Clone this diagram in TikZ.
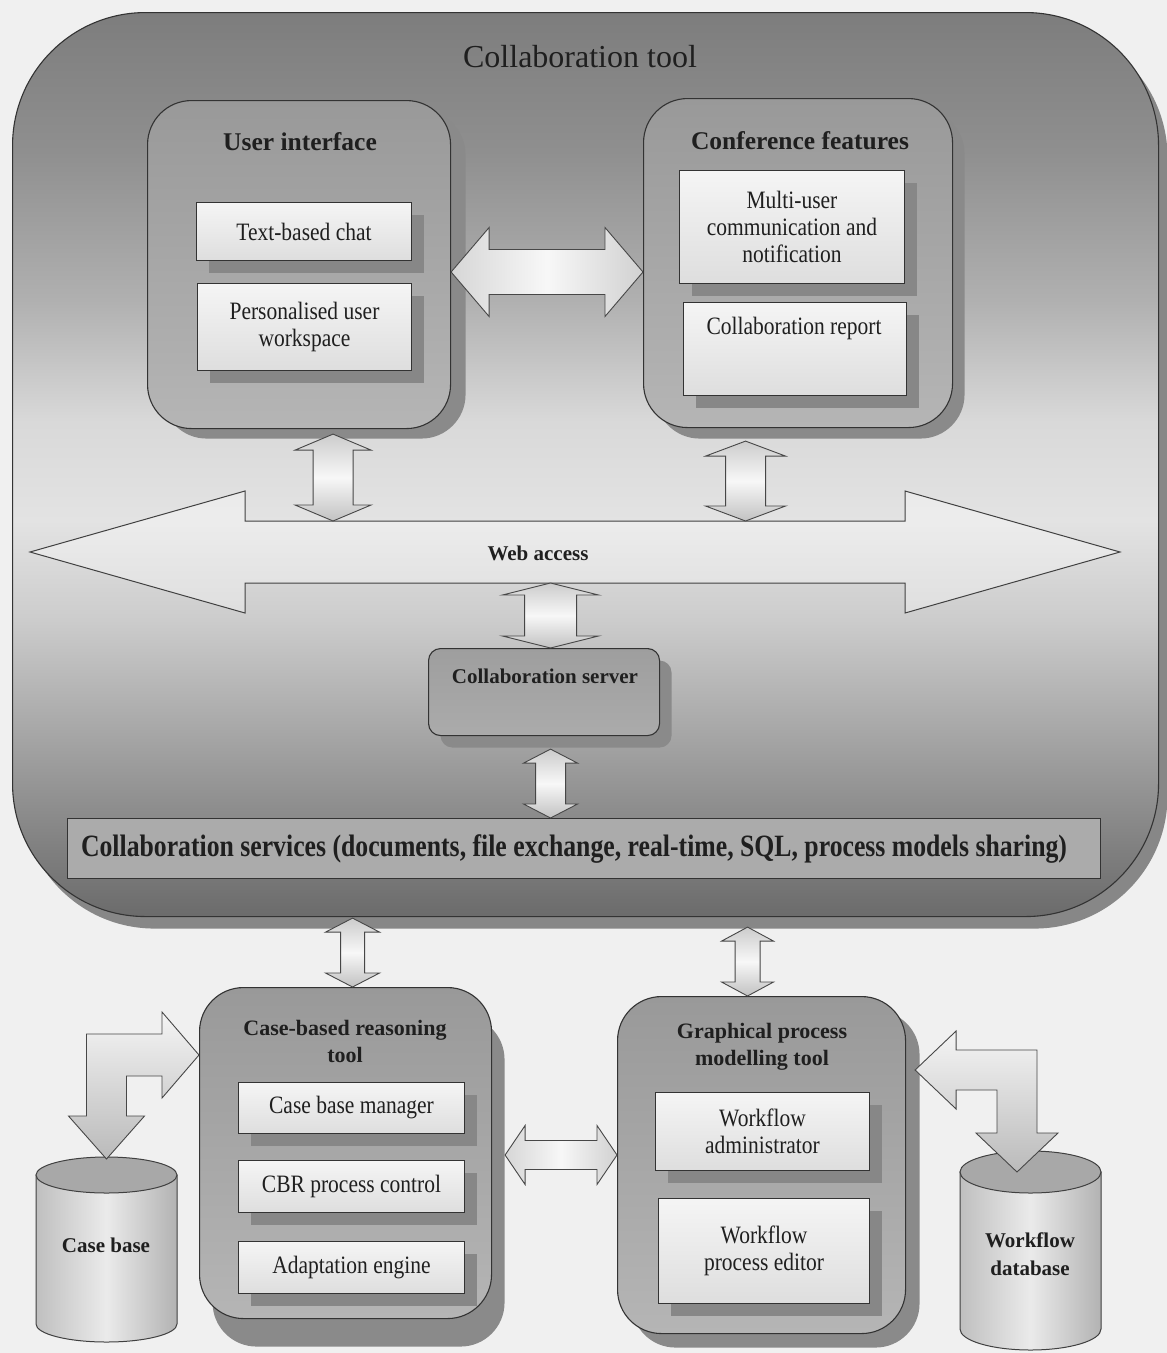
\documentclass[tikz,border=0pt]{standalone}
\usepackage{fontspec}
\setmainfont{Liberation Serif}
\newfontfamily\narrowserif[FakeStretch=0.86]{Liberation Serif}
\newfontfamily\tightserif[FakeStretch=0.83]{Liberation Serif}
\usetikzlibrary{calc,shadows}

% light band across the middle of the container, darker at top and bottom
\pgfdeclareverticalshading{outerfade}{100bp}{%
  color(0bp)=(black!58); color(25bp)=(black!58); color(28.7bp)=(black!50);
  color(34.2bp)=(black!37); color(41.4bp)=(black!20); color(46.9bp)=(black!11);
  color(52.4bp)=(black!15); color(59.1bp)=(black!31); color(67.4bp)=(black!44);
  color(75bp)=(black!51); color(100bp)=(black!51)}

\newcommand{\itemfnt}{\narrowserif\fontsize{25}{27}\selectfont}

% vertical double block arrow: style, top tip, bottom tip, shaft half width, head half width, head length
\newcommand{\vblock}[6]{%
  \path[#1] let \p1=(#2), \p2=(#3) in
    (\x1,\y1) -- (\x1+#5,\y1-#6) -- (\x1+#4,\y1-#6) -- (\x1+#4,\y2+#6) -- (\x1+#5,\y2+#6)
    -- (\x1,\y2) -- (\x1-#5,\y2+#6) -- (\x1-#4,\y2+#6) -- (\x1-#4,\y1-#6) -- (\x1-#5,\y1-#6) -- cycle;}
% horizontal double block arrow: style, left tip, right tip, shaft half width, head half width, head length
\newcommand{\hblock}[6]{%
  \path[#1] let \p1=(#2), \p2=(#3) in
    (\x1,\y1) -- (\x1+#6,\y1+#5) -- (\x1+#6,\y1+#4) -- (\x2-#6,\y1+#4) -- (\x2-#6,\y1+#5)
    -- (\x2,\y1) -- (\x2-#6,\y1-#5) -- (\x2-#6,\y1-#4) -- (\x1+#6,\y1-#4) -- (\x1+#6,\y1-#5) -- cycle;}

\tikzset{
  x=1pt, y=-1pt,
  ink/.style={text=black!88},
  rim/.style={draw=black!80, line width=1.1pt},
  toolbox/.style={rim, shade, shading=outerfade, rounded corners=133pt, anchor=north west,
    drop shadow={shadow xshift=9pt, shadow yshift=-12pt, fill=black!47, opacity=1}},
  panel/.style n args={2}{rim, rounded corners=44pt, top color=black!40, bottom color=black!29,
    anchor=north west, inner sep=0pt,
    drop shadow={shadow xshift=#1, shadow yshift=#2, fill=black!46, opacity=1}},
  itembox/.style={rim, line width=1pt, top color=black!4, bottom color=black!13, anchor=north west,
    ink, font=\itemfnt, align=center, inner sep=2pt,
    drop shadow={shadow xshift=12pt, shadow yshift=-12pt, fill=black!47, opacity=1}},
  itemtext/.style={ink, font=\itemfnt, align=center},
  head/.style={ink, font=\bfseries\fontsize{22}{27}\selectfont, align=center},
  bighead/.style={ink, font=\bfseries\fontsize{25.5}{30}\selectfont},
  srvbox/.style={rim, rounded corners=12pt, top color=black!38, bottom color=black!33, anchor=north west,
    drop shadow={shadow xshift=12pt, shadow yshift=-12pt, fill=black!46, opacity=1}},
  svcbox/.style={rim, fill=black!33, anchor=north west, inner sep=0pt},
  svctext/.style={ink, font=\tightserif\bfseries\fontsize{31}{36}\selectfont},
  vfill/.style={draw=black!72, line width=0.9pt, top color=black!20, bottom color=black!24, middle color=black!3},
  hfill/.style={draw=black!72, line width=0.9pt, left color=black!16, right color=black!18, middle color=black!3},
  webfill/.style={draw=black!75, line width=1pt, fill=white, fill opacity=0.35},
  bentfill/.style={draw=black!72, line width=0.9pt, top color=black!4, bottom color=black!27},
  cylbody/.style={draw=black!75, line width=1pt, left color=black!25, right color=black!30, middle color=black!8},
  cyltop/.style={draw=black!75, line width=1pt, fill=black!34},
}

\begin{document}
\begin{tikzpicture}
\fill[black!6] (0,0) rectangle (1167,1353);
\useasboundingbox (0,0) rectangle (1167,1353);

% ---------- collaboration tool container ----------
\node[toolbox, minimum width=1146pt, minimum height=904pt] (tool) at (12,12) {};
\node[ink, font=\fontsize{32}{36}\selectfont] (tooltitle) at (580,57) {Collaboration tool};

% user interface
\node[panel={15pt}{-10pt}, minimum width=303pt, minimum height=328pt] (ui) at (147,100) {};
\node[bighead] (uititle) at (300,142) {User interface};
\node[itembox, minimum width=215pt, minimum height=58pt] (chat) at (196,202) {Text-based chat};
\node[itembox, minimum width=214pt, minimum height=87pt] (wsp) at (197,283) {Personalised user\\workspace};

% conference features
\node[panel={12pt}{-11pt}, minimum width=309pt, minimum height=329pt] (cf) at (643,98) {};
\node[bighead] (cftitle) at (800,141) {Conference features};
\node[itembox, minimum width=225pt, minimum height=113pt] (multi) at (679,170) {Multi-user\\communication and\\notification};
\node[itembox, minimum width=223pt, minimum height=93pt] (report) at (683,302) {};
\node[itemtext] (reporttext) at (794,328) {Collaboration report};

\hblock{hfill}{ui.east |- 0,272}{cf.west |- 0,272}{22.5pt}{44.5pt}{38pt}

% web access
\coordinate (webL) at (30,552);
\coordinate (webR) at (1120,552);
\coordinate (webtop) at (575,521);
\coordinate (webbot) at (575,583);
\hblock{webfill}{webL}{webR}{31pt}{61pt}{215pt}
\node[head, font=\bfseries\fontsize{21}{25}\selectfont] (webtext) at (538,553) {Web access};

\coordinate (uiport) at ($(ui.south)+(34,5)$);
\coordinate (cfport) at ($(cf.south)+(-52.5,13)$);
\vblock{vfill}{uiport}{uiport |- webtop}{20pt}{38pt}{16pt}
\vblock{vfill}{cfport}{cfport |- webtop}{20pt}{40pt}{15pt}

% collaboration server
\node[srvbox, minimum width=231pt, minimum height=87pt] (server) at (428,648) {};
\node[head, font=\bfseries\fontsize{21}{25}\selectfont] (srvtext) at (545,676) {Collaboration server};
\coordinate (srvin) at ($(server.north)+(6.5,0)$);
\vblock{vfill}{srvin |- webbot}{srvin}{26pt}{48pt}{12pt}

% collaboration services
\node[svcbox, minimum width=1033pt, minimum height=60pt] (services) at (67,818) {};
\node[svctext] (svctext) at (574,849)
  {Collaboration services (documents, file exchange, real-time, SQL, process models sharing)};
\coordinate (srvout) at ($(server.south)+(6.5,13)$);
\vblock{vfill}{srvout}{srvout |- services.north}{15pt}{27pt}{14pt}

% ---------- case-based reasoning tool ----------
\node[panel={13pt}{-28pt}, minimum width=292pt, minimum height=331pt] (cbr) at (199,987) {};
\node[head] (cbrtitle) at (345,1041) {Case-based reasoning\\tool};
\node[itembox, minimum width=226pt, minimum height=51pt] (cbm) at (238,1082) {Case base manager};
\node[itembox, minimum width=226pt, minimum height=52pt] (cbrpc) at (238,1160) {CBR process control};
\node[itembox, minimum width=226pt, minimum height=52pt] (adapt) at (238,1241) {Adaptation engine};

% ---------- graphical process modelling tool ----------
\node[panel={14pt}{-14pt}, minimum width=288pt, minimum height=337pt] (gpm) at (617,996) {};
\node[head] (gpmtitle) at (762,1047) {Graphical process\\modelling tool};
\node[itembox, minimum width=214pt, minimum height=78pt] (wfadmin) at (655,1092) {Workflow\\administrator};
\node[itembox, minimum width=211pt, minimum height=105pt] (wfedit) at (658,1198) {Workflow\\process editor};

% links from the container down to both tools
\coordinate (cbrport) at ($(cbr.north)+(7,0)$);
\coordinate (toolA) at ($(cbrport |- tool.south)+(0,1)$);
\vblock{vfill}{toolA}{cbrport}{12pt}{27pt}{14pt}
\coordinate (gpmport) at ($(gpm.north)+(-14,0)$);
\coordinate (toolB) at ($(gpmport |- tool.south)+(0,10)$);
\vblock{vfill}{toolB}{gpmport}{12.5pt}{26pt}{14pt}

% link between the two tools
\coordinate (cbrE) at ($(cbr.east |- 0,1155)+(13,0)$);
\hblock{hfill}{cbrE}{gpm.west |- cbrE}{14.5pt}{29.5pt}{20pt}

% ---------- case base store ----------
\path[cylbody] (36,1175) -- (36,1324) arc[start angle=180, end angle=360, x radius=70.5pt, y radius=18pt] -- (177,1175) -- cycle;
\draw[cyltop] (106.5,1175) ellipse[x radius=70.5pt, y radius=18pt];
\node[head, font=\bfseries\fontsize{21}{25}\selectfont] (cbase) at (106,1245) {Case base};

% ---------- workflow database store ----------
\path[cylbody] (960,1172) -- (960,1329) arc[start angle=180, end angle=360, x radius=70.5pt, y radius=21pt] -- (1101,1172) -- cycle;
\draw[cyltop] (1030.5,1172) ellipse[x radius=70.5pt, y radius=21pt];
\node[head, font=\bfseries\fontsize{21}{28}\selectfont] (wfdb) at (1030,1254) {Workflow\\database};

% bent link: case base <-> case-based reasoning tool
\coordinate (cbrIn) at (cbr.west |- 0,1055);
\coordinate (cbTop) at (106.5,1159);
\path[bentfill] let \p1=(cbrIn), \p2=(cbTop) in
  (\x1,\y1) -- (\x1-37pt,\y1+43pt) -- (\x1-37pt,\y1+21pt) -- (\x2-20pt,\y1+21pt) -- (\x2-20pt,\y2+43pt)
  -- (\x2-38pt,\y2+43pt) -- (\x2,\y2) -- (\x2+38pt,\y2+43pt) -- (\x2+20pt,\y2+43pt) -- (\x2+20pt,\y1-21pt)
  -- (\x1-37pt,\y1-21pt) -- (\x1-37pt,\y1-43pt) -- cycle;

% bent link: workflow database <-> graphical process modelling tool
\coordinate (gpmIn) at ($(gpm.east |- 0,1070)+(9,0)$);
\coordinate (wfTop) at (1017,1172);
\path[bentfill] let \p1=(gpmIn), \p2=(wfTop) in
  (\x1,\y1) -- (\x1+41pt,\y1+39pt) -- (\x1+41pt,\y1+20pt) -- (\x2+20pt,\y1+20pt) -- (\x2+20pt,\y2+39pt)
  -- (\x2+41pt,\y2+39pt) -- (\x2,\y2) -- (\x2-41pt,\y2+39pt) -- (\x2-20pt,\y2+39pt) -- (\x2-20pt,\y1-20pt)
  -- (\x1+41pt,\y1-20pt) -- (\x1+41pt,\y1-39pt) -- cycle;

\end{tikzpicture}
\end{document}
